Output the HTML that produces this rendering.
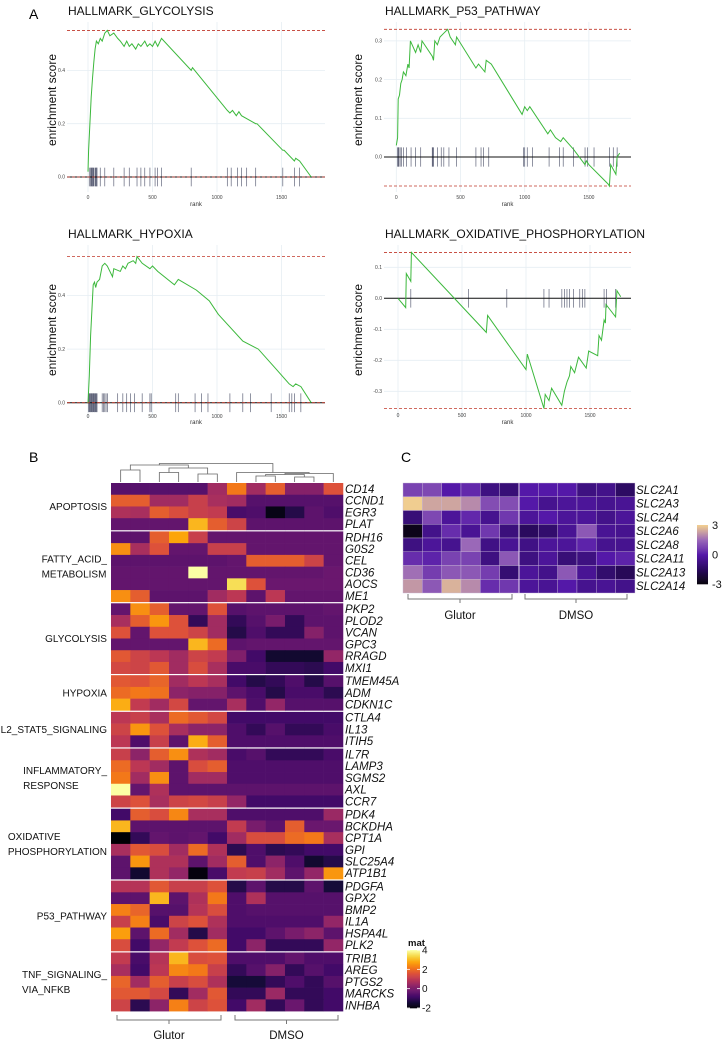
<!DOCTYPE html>
<html><head><meta charset="utf-8"><style>
html,body{margin:0;padding:0;background:#fff;}
svg{display:block;font-family:"Liberation Sans",Arial,sans-serif;}
</style></head><body>
<svg id="fig" width="726" height="1043" viewBox="0 0 726 1043" xmlns="http://www.w3.org/2000/svg">
<text x="29" y="19" font-size="14">A</text>
<text x="29" y="462" font-size="14">B</text>
<text x="401" y="462" font-size="14">C</text>
</svg>
<script>
// ---- GSEA data ----
const glyRank=[0,5,15,25,35,45,55,65,80,95,110,130,150,170,200,230,250,280,300,320,340,370,390,410,440,460,480,500,520,540,570,800,810,1080,1100,1120,1150,1170,1190,1300,1310,1510,1520,1600,1610,1640,1730];
const glyES=[0.02,0.1,0.2,0.3,0.37,0.43,0.48,0.51,0.5,0.52,0.51,0.54,0.55,0.53,0.54,0.52,0.51,0.49,0.51,0.49,0.5,0.48,0.5,0.49,0.51,0.49,0.5,0.49,0.51,0.49,0.52,0.4,0.41,0.25,0.24,0.25,0.23,0.245,0.23,0.2,0.2,0.1,0.1,0.06,0.07,0.06,0.0];
const glyHits=[10,20,25,30,35,40,45,55,60,65,70,95,130,200,280,320,380,410,440,480,520,540,570,800,1080,1110,1160,1190,1230,1300,1510,1600,1640];
const p53Rank=[0,10,15,25,35,45,55,75,90,100,110,150,170,190,200,280,290,300,320,340,370,400,420,460,470,620,640,690,700,740,980,1000,1020,1040,1180,1200,1240,1280,1300,1380,1470,1480,1500,1650,1660,1670,1710,1720,1740];
const p53ES=[0.03,0.05,0.15,0.16,0.19,0.2,0.22,0.21,0.24,0.23,0.3,0.27,0.29,0.27,0.3,0.26,0.25,0.3,0.29,0.31,0.32,0.33,0.31,0.29,0.31,0.23,0.24,0.22,0.25,0.24,0.11,0.13,0.12,0.13,0.06,0.07,0.05,0.04,0.05,0.02,-0.02,-0.01,-0.02,-0.07,-0.075,-0.02,-0.045,0.0,0.01];
const p53Hits=[10,15,20,30,40,55,80,115,150,190,280,285,290,320,350,370,410,470,620,660,680,720,990,1000,1020,1060,1190,1270,1300,1380,1470,1490,1540,1660,1690,1720];
const hypRank=[0,10,20,40,50,60,70,90,110,130,150,190,200,250,270,290,310,350,370,380,420,480,500,540,670,700,840,940,1010,1200,1320,1450,1560,1590,1610,1650,1730];
const hypES=[0,0.1,0.25,0.44,0.45,0.43,0.45,0.46,0.51,0.52,0.51,0.47,0.5,0.49,0.51,0.5,0.52,0.53,0.52,0.545,0.52,0.5,0.51,0.49,0.44,0.46,0.42,0.38,0.33,0.23,0.2,0.13,0.07,0.06,0.07,0.06,0];
const hypHits=[5,10,15,20,25,30,35,40,45,50,55,60,65,70,110,120,130,140,150,230,270,300,330,360,420,480,490,680,700,830,880,930,1100,1200,1260,1420,1560,1580,1600,1650];
const oxRank=[0,60,65,100,105,690,700,1000,1010,1140,1150,1180,1200,1280,1300,1320,1340,1350,1380,1410,1470,1490,1560,1570,1590,1610,1620,1625,1700,1710,1740];
const oxES=[0,-0.03,0.08,0.055,0.148,-0.11,-0.055,-0.23,-0.18,-0.355,-0.31,-0.33,-0.29,-0.345,-0.3,-0.27,-0.25,-0.22,-0.24,-0.19,-0.225,-0.17,-0.185,-0.12,-0.135,-0.07,-0.08,-0.02,-0.06,0.025,0.005];
const oxHits=[100,550,850,1140,1180,1280,1300,1320,1340,1370,1420,1440,1460,1610,1630,1700];
const gseaTitles=["HALLMARK_GLYCOLYSIS","HALLMARK_P53_PATHWAY","HALLMARK_HYPOXIA","HALLMARK_OXIDATIVE_PHOSPHORYLATION"];
const glyTicks=[0,0.2,0.4], p53Ticks=[0,0.1,0.2,0.3], hypTicks=[0,0.2,0.4], oxTicks=[-0.3,-0.2,-0.1,0,0.1];
const rankTicks=[0,500,1000,1500];

// ---- Heatmap B data ----
const bGroups=["APOPTOSIS","FATTY_ACID_\nMETABOLISM","GLYCOLYSIS","HYPOXIA","IL2_STAT5_SIGNALING","INFLAMMATORY_\nRESPONSE","OXIDATIVE\nPHOSPHORYLATION","P53_PATHWAY","TNF_SIGNALING_\nVIA_NFKB"];
const bGroupSizes=[4,6,6,3,3,5,6,6,5];
const bGenes=["CD14","CCND1","EGR3","PLAT","RDH16","G0S2","CEL","CD36","AOCS","ME1","PKP2","PLOD2","VCAN","GPC3","RRAGD","MXI1","TMEM45A","ADM","CDKN1C","CTLA4","IL13","ITIH5","IL7R","LAMP3","SGMS2","AXL","CCR7","PDK4","BCKDHA","CPT1A","GPI","SLC25A4","ATP1B1","PDGFA","GPX2","BMP2","IL1A","HSPA4L","PLK2","TRIB1","AREG","PTGS2","MARCKS","INHBA"];
const bValues=[
[-0.5,-0.5,-0.5,-0.5,-0.5,0.6,2.2,0.6,1.8,0.2,0.2,1.6],
[1.8,1.8,0.6,0.6,1.2,0.7,0.6,-0.5,-0.5,-0.5,-0.5,-0.5],
[0.8,0.7,1.8,1.5,1.2,1.1,-0.7,-0.6,-1.8,-1.2,-0.4,-0.6],
[-0.3,-0.3,-0.3,-0.3,3,1.8,1.3,-0.4,-0.4,-0.4,-0.4,-0.4],
[-0.4,-0.4,1.8,2.8,1.2,-0.3,-0.3,-0.3,-0.3,-0.3,-0.3,-0.3],
[2.5,0.7,1.6,-0.3,-0.3,1.2,1.2,-0.3,-0.3,-0.3,-0.3,-0.3],
[-0.4,-0.4,-0.4,-0.4,-0.4,-0.4,-0.3,1.8,1.8,1.8,1.3,-0.3],
[-0.3,-0.3,-0.3,-0.3,4,-0.3,-0.3,-0.3,-0.3,-0.3,-0.3,-0.2],
[-0.3,-0.3,-0.3,-0.3,-0.3,-0.3,3.5,1.6,-0.2,-0.2,-0.2,-0.2],
[2.5,1.8,-0.4,-0.4,-0.4,0.6,1.0,-0.4,1.0,-0.3,-0.3,-0.3],
[-0.3,2.5,1.8,-0.3,-0.3,1.6,-0.5,-0.4,-0.4,-0.4,-0.4,-0.3],
[0.7,1.8,2.6,1.6,-1,0.6,-1,-0.5,0,-1,-0.4,-0.4],
[1.6,-0.3,1.6,1.6,1.3,0.6,-1.2,-0.6,-1,-1,0.2,-0.4],
[-0.3,-0.3,-0.3,-0.3,3,2,-0.4,-0.3,-0.3,-0.3,-0.3,-0.3],
[1.7,1.3,1,0.6,1.3,1.1,0.1,-0.8,-1.5,-1.5,-1.5,0.4],
[1.4,1.3,1.7,0.6,1.5,0.7,-0.7,-0.7,-1,-1,-1.1,-0.8],
[1.7,1.6,1.9,0.6,1,0.7,-0.8,-1.2,-1,-0.6,-1.2,-0.5],
[2,2.2,2.1,0.3,0.2,0.2,-0.4,-0.7,-1.2,-0.7,-0.7,-1.1],
[2.9,1.1,0.6,1.4,-0.3,-0.3,0.7,-0.6,0.4,-0.5,-0.5,-0.5],
[1,1.2,0.7,2,1.7,1.4,-0.8,-0.8,-0.8,-0.8,-0.8,-0.8],
[1.3,2.6,1.6,0.7,0.3,0.3,-0.6,-1,-0.5,-1,-1,-0.7],
[1,-0.6,1.2,-0.4,2.9,1.8,-0.6,-0.6,-0.6,-0.6,-0.6,-0.6],
[1.2,0.3,1.8,2.5,0.8,0.6,-0.7,-0.5,-1,-1,-1,-0.7],
[2,1,0.6,-0.4,1.5,1.8,-0.6,-0.6,-0.6,-0.6,-0.6,-0.6],
[2.2,0.6,2.5,-0.4,0.6,0.6,-0.6,-0.6,-0.6,-0.6,-0.6,-0.6],
[4,-0.3,0.8,-0.4,-0.4,-0.4,-0.4,-0.4,-0.4,-0.4,-0.4,-0.4],
[1.3,1.6,0.7,1.3,1.4,1.2,0.4,-0.8,-0.8,-0.8,-0.8,-0.8],
[-0.8,1.8,1.5,2.4,0.7,0.7,-0.6,-0.6,-0.6,-0.6,-0.6,0.5],
[3,-0.4,-0.4,-0.4,-0.4,-0.4,1.1,0,-0.4,1.8,-0.2,-0.2],
[-2,-1,-0.3,-0.4,-0.3,-0.8,0.6,1.5,1.5,2,2.2,0.7],
[0.7,1.7,1.5,0.6,2,0.8,-1.1,-0.6,-1.1,-1,-0.8,-0.8],
[-0.4,2.6,0.8,0.8,-0.4,0.6,1.8,-0.6,0.3,-0.6,-1.5,-1.2],
[-0.4,-1.5,0.8,0.4,-1.9,-0.7,1.1,1.2,0.6,-0.4,0.4,2.6],
[0.9,0.9,1.7,1.2,1.2,1.6,-1.2,-0.4,-1.2,-1.2,-0.4,-1.4],
[-0.4,-0.4,3,-0.4,0.8,2.2,-0.6,0.8,-0.5,-0.5,-0.5,-0.5],
[2.3,1.9,-0.5,-0.5,0.9,1.5,-0.6,-0.5,-0.5,-0.5,-0.5,-0.5],
[1.2,2.3,-0.7,1.3,1.6,0.8,-0.6,-0.6,-0.6,-0.6,-0.6,0.4],
[2.7,-0.4,2,0.6,-1.2,0.6,-0.8,-0.8,-0.4,0,0.3,-0.4],
[1.5,-0.8,0.4,1.1,1.6,2,-0.8,0.3,-1,-1,-1,0.4],
[1.1,-0.7,0.9,3,1.5,1.6,-0.6,-0.6,-0.6,-0.3,-0.6,-0.6],
[0.7,-0.8,1,2.4,2.2,1.2,-1,-0.5,0.2,-1,-0.5,-0.8],
[1.9,0.6,1.8,1.2,1.5,0.8,-1.4,-1.4,-1,-0.6,-1,-0.5],
[1.7,1.7,1.4,-1,0.6,1.7,-1,-1,0.5,-1,-1,-0.8],
[1.3,-1.1,0.3,2.3,1.3,1.6,-0.8,0.6,-1,-0.2,-1,-0.8]];
const bLegendTicks=[4,2,0,-2];

// ---- Heatmap C data ----
const cGenes=["SLC2A1","SLC2A3","SLC2A4","SLC2A6","SLC2A8","SLC2A11","SLC2A13","SLC2A14"];
const cValues=[
[0.8,0.9,0,0.3,-0.8,-1,0,0,0,-0.8,-0.6,-1.4],
[3,2.4,2.4,2,1,1,0,-0.5,-0.3,-0.3,-0.5,-0.4],
[-1,0.9,-0.3,0.3,-0.5,0.6,-0.3,0,-0.3,-0.3,-0.6,-0.3],
[-2.7,-0.6,0.4,-0.4,0.6,-0.9,-1.5,-1.2,-0.4,1.2,-0.4,-0.5],
[-0.8,-0.3,-0.5,1.5,-0.7,-0.4,-0.7,-0.3,-0.3,0.2,-0.5,-0.5],
[0.4,0.2,0.8,0.8,-0.8,1.2,-0.8,-0.3,-1,-0.8,0,0.2],
[1.6,0.7,1.2,1.2,0.7,-1.1,-0.3,-0.6,1.2,-0.4,-1.2,-1.6],
[2.2,1.2,2.6,2,0.4,0.6,-0.3,-0.4,0,-0.5,-0.4,-0.6]];
const cLegendTicks=[3,0,-3];
const conditions=["Glutor","DMSO"];

const svg=document.getElementById('fig');
const NS="http://www.w3.org/2000/svg";
function mk(tag,attrs,parent){const e=document.createElementNS(NS,tag);for(const k in attrs)e.setAttribute(k,attrs[k]);(parent||svg).appendChild(e);return e;}
function txt(s,attrs,parent){const e=mk('text',attrs,parent);e.textContent=s;return e;}

function lerpHex(a,b,t){const pa=[1,3,5].map(i=>parseInt(a.substr(i,2),16)),pb=[1,3,5].map(i=>parseInt(b.substr(i,2),16));return 'rgb('+pa.map((v,i)=>Math.round(v+(pb[i]-v)*t)).join(',')+')';}
function ramp(stops,t){t=Math.max(0,Math.min(1,t));const n=stops.length-1;const i=Math.min(n-1,Math.floor(t*n));return lerpHex(stops[i],stops[i+1],t*n-i);}
const inferno=["#000004","#160b39","#420a68","#6a176e","#932667","#bc3754","#dd513a","#f37819","#fca50a","#f6d746","#fcffa4"];
const cmapC=["#050208","#2a0a5e","#5418a8","#9a68b8","#f0cd90"];
const colB=v=>ramp(inferno,(v+2)/6);
const colC=v=>ramp(cmapC,(v+3)/6);

// ---- GSEA plots ----
function gsea(cfg){
  const g=mk('g',{});
  
  
  const X=r=>cfg.x0+r*cfg.xs, Y=v=>cfg.y0-v*cfg.ys;
  rankTicks.forEach(r=>{const l=mk('line',{x1:X(r),x2:X(r),y1:cfg.top,y2:cfg.bot,stroke:'#e6eef3','stroke-width':0.8},g);
    
    const t=txt(String(r),{x:X(r),y:cfg.tickY,'font-size':5,'text-anchor':'middle',fill:'#444'},g);
    });
  cfg.ticks.forEach(v=>{const l=mk('line',{x1:cfg.left,x2:cfg.right,y1:Y(v),y2:Y(v),stroke:'#e6eef3','stroke-width':0.8},g);
    
    const t=txt(v.toFixed(1),{x:cfg.left-2,y:Y(v)+1.7,'font-size':5,'text-anchor':'end',fill:'#444'},g);
    });
  cfg.hits.forEach(r=>{const l=mk('line',{x1:X(r),x2:X(r),y1:Y(cfg.tick),y2:Y(-cfg.tick),stroke:'#3a3f5a','stroke-width':0.7,'stroke-opacity':0.8},g);
    });
  const z=mk('line',{x1:cfg.left,x2:cfg.right,y1:Y(0),y2:Y(0),stroke:'#111','stroke-width':1},g);
  
  const maxV=Math.max(...cfg.es),minV=Math.min(...cfg.es);
  [maxV,minV<0?minV:0].forEach(v=>{const l=mk('line',{x1:cfg.left,x2:cfg.right,y1:Y(v),y2:Y(v),stroke:'#c0392b','stroke-width':0.8,'stroke-dasharray':'3,2'},g);
    });
  const pts=cfg.rank.map((r,i)=>X(r).toFixed(1)+','+Y(cfg.es[i]).toFixed(1)).join(' ');
  const pl=mk('polyline',{points:pts,fill:'none',stroke:'#3cb83c','stroke-width':1},g);
  
  const t=txt(cfg.title,{x:cfg.left+1,y:cfg.titleY,'font-size':12,fill:'#111'},g);
  
  const yt=txt('enrichment score',{x:cfg.ylx,y:cfg.yly,'font-size':12,'text-anchor':'middle',transform:`rotate(-90 ${cfg.ylx} ${cfg.yly})`,fill:'#111'},g);
  
  const xt=txt('rank',{x:(cfg.left+cfg.right)/2,y:cfg.rankY,'font-size':6,'text-anchor':'middle',fill:'#333'},g);
  
}
gsea({name:'gsea-glycolysis',title:gseaTitles[0],rank:glyRank,es:glyES,hits:glyHits,ticks:glyTicks,x0:88,xs:0.129,y0:177,ys:266.5,left:67,right:325,top:22,bot:192,tick:0.035,titleY:15,ylx:56,yly:100,tickY:199,rankY:206});
gsea({name:'gsea-p53',title:gseaTitles[1],rank:p53Rank,es:p53ES,hits:p53Hits,ticks:p53Ticks,x0:396.3,xs:0.1284,y0:157,ys:387,left:384,right:631,top:22,bot:192,tick:0.025,titleY:15,ylx:362,yly:100,tickY:199,rankY:206});
gsea({name:'gsea-hypoxia',title:gseaTitles[2],rank:hypRank,es:hypES,hits:hypHits,ticks:hypTicks,x0:88,xs:0.129,y0:402.7,ys:268,left:67,right:325,top:245,bot:418,tick:0.035,titleY:238,ylx:56,yly:330,tickY:418,rankY:424});
gsea({name:'gsea-oxidative-phosphorylation',title:gseaTitles[3],rank:oxRank,es:oxES,hits:oxHits,ticks:oxTicks,x0:398,xs:0.128,y0:298.3,ys:310,left:384,right:631,top:245,bot:418,tick:0.03,titleY:238,ylx:362,yly:330,tickY:417,rankY:424});

// ---- Heatmap B ----
const bx0=111,bcw=19.33,bTop=483,brh=11.73,bGap=1.5;
const hb=mk('g',{});


let row=0,y=bTop;
bGroupSizes.forEach((n,gi)=>{
  const gy0=y;
  for(let k=0;k<n;k++){
    bValues[row].forEach((v,c)=>{const r=mk('rect',{x:bx0+c*bcw,y:y,width:bcw+0.3,height:brh+0.3,fill:colB(v)},hb);
      });
    const t=txt(bGenes[row],{x:345,y:y+brh/2+4,'font-size':11.5,'font-style':'italic',fill:'#111'},hb);
    
    y+=brh;row++;
  }
  const lines=bGroups[gi].split('\n');
  const cy=(gy0+y)/2;
  const els=lines.map((s,li)=>{const t=txt(s,{x:0,y:cy+3.5+(li-(lines.length-1)/2)*15,'font-size':10,fill:'#111'},hb);
    return t;});
  const w=Math.max(...els.map(e=>e.getComputedTextLength()));
  els.forEach(e=>e.setAttribute('x',(107-w).toFixed(1)));
  if(gi<bGroupSizes.length-1){y+=bGap;}
});
const cx=i=>bx0+bcw*(i+0.5);
function den(xa,xb,ya,yb,h){const p=mk('path',{d:`M${xa},${ya}V${h}H${xb}V${yb}`,fill:'none',stroke:'#666','stroke-width':0.8},hb);
  return (xa+xb)/2;}
const L=482;
const a12=den(cx(0),cx(1),L,L,470);
const a34=den(cx(2),cx(3),L,L,472.5);
const a56=den(cx(4),cx(5),L,L,474);
const a3456=den(a34,a56,472.5,474,468);
const left=den(a12,a3456,470,468,465);
const b89=den(cx(7),cx(8),L,L,476);
const b1011=den(cx(9),cx(10),L,L,477);
const b811=den(b89,b1011,476,477,474.5);
const b812=den(b811,cx(11),474.5,L,473.5);
const right=den(cx(6),b812,L,473.5,472.5);
den(left,right,465,472.5,463.5);
function bracket(x1,x2,yb,label,lx,ly,name){
  const p=mk('path',{d:`M${x1},${yb}v5H${x2}v-5M${(x1+x2)/2},${yb+5}v4`,fill:'none',stroke:'#777','stroke-width':1},svg);
  
  const t=txt(label,{x:(x1+x2)/2,y:ly,'font-size':11.5,'text-anchor':'middle',fill:'#111'});
  
}
bracket(117,221,1015,conditions[0],0,1039,'glutor');
bracket(235,338,1015,conditions[1],0,1039,'dmso');
const lgB=mk('g',{});


txt('mat',{x:408,y:946,'font-size':9.5,'font-weight':'bold',fill:'#111'},lgB);
for(let i=0;i<60;i++){const v=4-6*i/60;mk('rect',{x:407,y:950+i*58/60,width:13,height:1.3,fill:colB(v)},lgB);}
bLegendTicks.forEach(v=>{const yy=950+(4-v)/6*58;mk('line',{x1:407,x2:410,y1:yy,y2:yy,stroke:'#fff','stroke-width':0.8},lgB);mk('line',{x1:417,x2:420,y1:yy,y2:yy,stroke:'#fff','stroke-width':0.8},lgB);
  const t=txt(String(v),{x:422,y:yy+3.5,'font-size':10,fill:'#111'},lgB);});

// ---- Heatmap C ----
const hc=mk('g',{});


const cx0=403,ccw=19.33,cTop=483,crh=13.75;
cValues.forEach((rowv,r)=>{
  rowv.forEach((v,c)=>{const e=mk('rect',{x:cx0+c*ccw,y:cTop+r*crh,width:ccw,height:crh,fill:colC(v),stroke:'#c9b8d8','stroke-width':0.4},hc);
    });
  const t=txt(cGenes[r],{x:636,y:cTop+r*crh+crh/2+4,'font-size':11.5,'font-style':'italic',fill:'#111'},hc);
  
});
mk('line',{x1:cx0+6*ccw,x2:cx0+6*ccw,y1:cTop,y2:cTop+8*crh,stroke:'#e8dcef','stroke-width':1},hc);
bracket(408,512,594,conditions[0],0,619,'c-glutor');
bracket(525,627,594,conditions[1],0,619,'c-dmso');
const lgC=mk('g',{});


for(let i=0;i<60;i++){const v=3-6*i/60;mk('rect',{x:697,y:525+i*59/60,width:11,height:1.3,fill:colC(v)},lgC);}
cLegendTicks.forEach(v=>{const yy=525+(3-v)/6*59;
  const t=txt(String(v),{x:712,y:yy+4,'font-size':11,fill:'#111'},lgC);});
</script>
</body></html>
